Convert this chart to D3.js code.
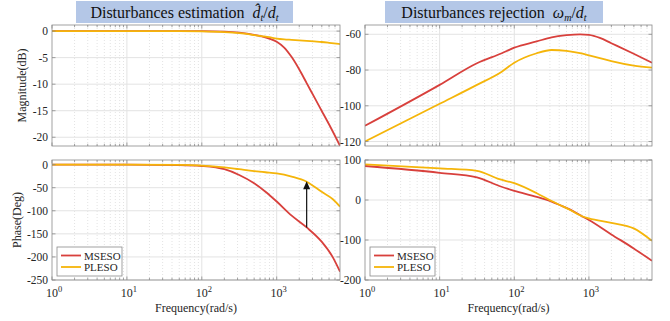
<!DOCTYPE html>
<html>
<head>
<meta charset="utf-8">
<script src="https://cdn.jsdelivr.net/npm/d3@7"></script>
<style>
  body { margin: 0; background: #fff; }
  svg { display: block; }
</style>
</head>
<body>
<svg id="chart" width="670" height="321" font-family="'Liberation Serif', 'Times New Roman', serif"></svg>
<script>
// values (frequency in rad/s)
const seriesNames = ['MSESO', 'PLESO'];
const xTicks = [1, 10, 100, 1000];

// disturbances estimation, magnitude (dB)
const estMagFreq = [1, 10, 50, 100, 200, 316, 500, 631, 794, 1000, 1259, 1585, 1995, 2512, 3162, 3981, 5012, 7000];
const estMagMSESO = [0, 0, 0, 0, -0.1, -0.3, -0.7, -1.0, -1.4, -2.0, -3.1, -4.9, -7.2, -9.8, -12.4, -15.0, -17.6, -21.6];
const estMagPLESO = [0, 0, 0, -0.05, -0.2, -0.4, -0.75, -0.95, -1.15, -1.4, -1.55, -1.65, -1.75, -1.85, -1.95, -2.05, -2.2, -2.45];

// disturbances rejection, magnitude (dB)
const rejMagFreq = [1, 10, 31.6, 68, 100, 200, 316, 500, 760, 1000, 1400, 1995, 3981, 7000];
const rejMagMSESO = [-111.2, -88.3, -76.2, -70.6, -67.5, -64, -61.7, -60.5, -60.0, -60.3, -62.0, -65, -70.9, -75.9];
const rejMagPLESO = [-120, -98.9, -88.3, -80.9, -75.9, -70.6, -68.8, -69.3, -70.6, -71.8, -73.3, -75.0, -77.5, -78.6];

// disturbances estimation, phase (deg)
const estPhFreq = [1, 10, 50, 100, 200, 316, 500, 708, 1000, 1585, 2512, 3981, 5623, 7000];
const estPhMSESO = [0, 0, -1, -3, -10, -22.5, -40.5, -58.7, -80, -110.6, -136, -167, -201, -232];
const estPhPLESO = [0, 0, -0.5, -2, -6, -10, -14, -16.5, -19, -26, -37, -59, -75, -91];

// disturbances rejection, phase (deg)
const rejPhFreq = [1, 10, 31.6, 63, 100, 200, 316, 407, 562, 794, 1000, 1995, 3981, 7000];
const rejPhMSESO = [85, 68, 56.7, 35, 23, 8, -4, -12.5, -24, -40, -50, -86, -121, -152];
const rejPhPLESO = [89, 79, 73, 52, 42, 17, -2.5, -12.5, -25, -40, -46, -57, -71, -102];

// arrow in the estimation phase panel
const arrowFreq = 2512;
const arrowFrom = -136;
const arrowTo = -36;

const colors = { MSESO: '#d8403c', PLESO: '#f5b50a' };
const gridColor = '#e3e3e3';
const frameColor = '#8a8a8a';
const textColor = '#262626';

const svg = d3.select('#chart');
const xDomain = [1, 7000];

function minorTicks() {
  const out = [];
  for (let e = 0; e < 4; e++) {
    for (let m = 2; m <= 9; m++) {
      const v = m * Math.pow(10, e);
      if (v < xDomain[1]) out.push(v);
    }
  }
  return out;
}

function makePanel(opt) {
  const x = d3.scaleLog().domain(xDomain).range([opt.x0, opt.x1]);
  const y = d3.scaleLinear().domain(opt.yDomain).range([opt.y1, opt.y0]);
  const g = svg.append('g');

  // grid
  g.selectAll('.minor').data(minorTicks()).join('line')
    .attr('x1', d => x(d)).attr('x2', d => x(d))
    .attr('y1', opt.y0).attr('y2', opt.y1)
    .attr('stroke', gridColor).attr('stroke-dasharray', '1,2');
  g.selectAll('.majx').data(xTicks.slice(1)).join('line')
    .attr('x1', d => x(d)).attr('x2', d => x(d))
    .attr('y1', opt.y0).attr('y2', opt.y1)
    .attr('stroke', gridColor);
  g.selectAll('.majy').data(opt.yTicks).join('line')
    .attr('x1', opt.x0).attr('x2', opt.x1)
    .attr('y1', d => y(d)).attr('y2', d => y(d))
    .attr('stroke', gridColor);

  // curves
  const line = d3.line()
    .x(d => x(d[0])).y(d => y(d[1]))
    .curve(d3.curveMonotoneX);
  const clipId = 'clip' + opt.id;
  g.append('clipPath').attr('id', clipId).append('rect')
    .attr('x', opt.x0).attr('y', opt.y0 - 1)
    .attr('width', opt.x1 - opt.x0).attr('height', opt.y1 - opt.y0 + 2);
  opt.series.forEach((s, i) => {
    g.append('path')
      .datum(opt.freq.map((f, j) => [f, s[j]]))
      .attr('d', line)
      .attr('fill', 'none')
      .attr('stroke', colors[seriesNames[i]])
      .attr('stroke-width', 1.8)
      .attr('clip-path', `url(#${clipId})`);
  });

  // frame + inside ticks
  g.append('rect')
    .attr('x', opt.x0).attr('y', opt.y0)
    .attr('width', opt.x1 - opt.x0).attr('height', opt.y1 - opt.y0)
    .attr('fill', 'none').attr('stroke', frameColor).attr('stroke-width', 0.8);
  const tk = g.append('g').attr('stroke', frameColor).attr('stroke-width', 0.8);
  minorTicks().concat(xTicks).forEach(v => {
    const len = xTicks.includes(v) ? 3.5 : 2.2;
    tk.append('line').attr('x1', x(v)).attr('x2', x(v)).attr('y1', opt.y1).attr('y2', opt.y1 - len);
    tk.append('line').attr('x1', x(v)).attr('x2', x(v)).attr('y1', opt.y0).attr('y2', opt.y0 + len);
  });
  opt.yTicks.forEach(v => {
    tk.append('line').attr('x1', opt.x0).attr('x2', opt.x0 + 3.5).attr('y1', y(v)).attr('y2', y(v));
    tk.append('line').attr('x1', opt.x1).attr('x2', opt.x1 - 3.5).attr('y1', y(v)).attr('y2', y(v));
  });

  // y tick labels
  g.selectAll('.ylab').data(opt.yTicks).join('text')
    .attr('x', opt.x0 - 4).attr('y', d => y(d) + 4)
    .attr('text-anchor', 'end').attr('font-size', 11.5)
    .attr('fill', textColor)
    .text(d => String(d));

  if (opt.xLabels) {
    xTicks.forEach(v => {
      const t = g.append('text')
        .attr('x', x(v) + 2).attr('y', opt.y1 + 17)
        .attr('text-anchor', 'middle').attr('font-size', 12).attr('fill', textColor);
      t.append('tspan').text('10');
      t.append('tspan').attr('dy', -5).attr('font-size', 8.5).text(Math.round(Math.log10(v)));
    });
    g.append('text')
      .attr('x', (opt.x0 + opt.x1) / 2).attr('y', opt.y1 + 32)
      .attr('text-anchor', 'middle').attr('font-size', 12).attr('fill', textColor)
      .text('Frequency(rad/s)');
  }

  if (opt.yLabel) {
    g.append('text')
      .attr('transform', `translate(${opt.yLabelX},${(opt.y0 + opt.y1) / 2}) rotate(-90)`)
      .attr('text-anchor', 'middle').attr('font-size', 12).attr('fill', textColor)
      .text(opt.yLabel);
  }

  if (opt.legend) {
    const lx = opt.x0 + 5, ly = 247;
    const lg = g.append('g');
    lg.append('rect').attr('x', lx).attr('y', ly).attr('width', 65).attr('height', 29)
      .attr('fill', '#fff').attr('stroke', frameColor).attr('stroke-width', 0.8);
    seriesNames.forEach((n, i) => {
      const yy = ly + 8.5 + i * 11.5;
      lg.append('line').attr('x1', lx + 4).attr('x2', lx + 24).attr('y1', yy).attr('y2', yy)
        .attr('stroke', colors[n]).attr('stroke-width', 1.8);
      lg.append('text').attr('x', lx + 27).attr('y', yy + 4)
        .attr('font-size', 11).attr('fill', textColor).text(n);
    });
  }
  return { x, y, g };
}

const L = { x0: 52, x1: 340 }, R = { x0: 365, x1: 652 };
const T = { y0: 25, y1: 146 }, B = { y0: 160, y1: 280 };

makePanel({ id: 'tl', ...L, ...T, yDomain: [-21.65, 1.15], yTicks: [-20, -15, -10, -5, 0],
  freq: estMagFreq, series: [estMagMSESO, estMagPLESO], yLabel: 'Magnitude(dB)', yLabelX: 26 });
makePanel({ id: 'tr', ...R, ...T, yDomain: [-122.5, -54.8], yTicks: [-120, -100, -80, -60],
  freq: rejMagFreq, series: [rejMagMSESO, rejMagPLESO] });
const bl = makePanel({ id: 'bl', ...L, ...B, yDomain: [-250, 10], yTicks: [-250, -200, -150, -100, -50, 0],
  freq: estPhFreq, series: [estPhMSESO, estPhPLESO], xLabels: true, legend: true,
  yLabel: 'Phase(Deg)', yLabelX: 21 });
makePanel({ id: 'br', ...R, ...B, yDomain: [-200, 100], yTicks: [-200, -100, 0, 100],
  freq: rejPhFreq, series: [rejPhMSESO, rejPhPLESO], xLabels: true, legend: true });

// arrow
const ax = bl.x(arrowFreq), ay0 = bl.y(arrowFrom), ay1 = bl.y(arrowTo);
bl.g.append('line').attr('x1', ax).attr('x2', ax).attr('y1', ay0).attr('y2', ay1 + 7)
  .attr('stroke', '#111').attr('stroke-width', 1.2);
bl.g.append('path')
  .attr('d', `M${ax},${ay1} L${ax - 3.5},${ay1 + 8} L${ax + 3.5},${ay1 + 8} Z`)
  .attr('fill', '#111');

// titles
function title(x, w, label, math) {
  const g = svg.append('g');
  g.append('rect').attr('x', x).attr('y', 1).attr('width', w).attr('height', 22).attr('fill', '#b4c7e7');
  const t = g.append('text').attr('x', x + w / 2).attr('y', 18).attr('text-anchor', 'middle')
    .attr('font-size', 16).attr('fill', '#111');
  t.append('tspan').text(label + '\u2002');
  math(t);
}
title(76, 217, 'Disturbances estimation', t => {
  t.append('tspan').attr('font-style', 'italic').text('d\u0302');
  t.append('tspan').attr('font-style', 'italic').attr('font-size', 10).attr('dy', 3).text('t');
  t.append('tspan').attr('dy', -3).text('/');
  t.append('tspan').attr('font-style', 'italic').text('d');
  t.append('tspan').attr('font-style', 'italic').attr('font-size', 10).attr('dy', 3).text('t');
});
title(385, 218, 'Disturbances rejection', t => {
  t.append('tspan').attr('font-style', 'italic').text('\u03c9');
  t.append('tspan').attr('font-style', 'italic').attr('font-size', 10).attr('dy', 3).text('m');
  t.append('tspan').attr('dy', -3).text('/');
  t.append('tspan').attr('font-style', 'italic').text('d');
  t.append('tspan').attr('font-style', 'italic').attr('font-size', 10).attr('dy', 3).text('t');
});
</script>
</body>
</html>
